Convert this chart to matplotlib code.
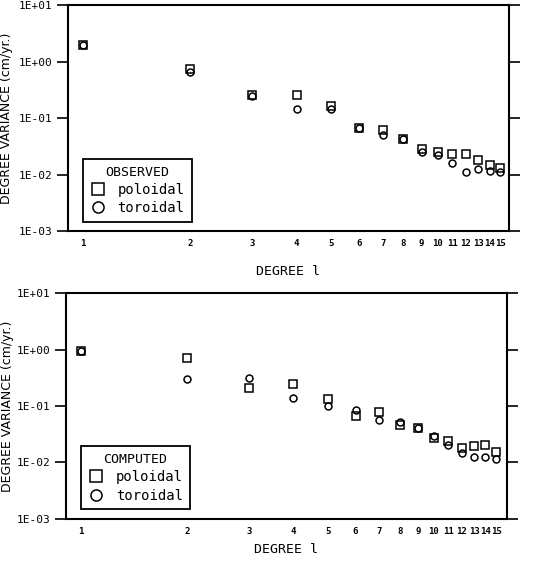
import numpy as np
import matplotlib
matplotlib.use('Agg')
import matplotlib.pyplot as plt
from matplotlib.ticker import FixedLocator, NullLocator

plt.rcParams['font.family'] = ['DejaVu Sans Mono']

# grau l
graus = [1, 2, 3, 4, 5, 6, 7, 8, 9, 10, 11, 12, 13, 14, 15]

# observado
obs_poloidal = [2.0, 0.74, 0.26, 0.26, 0.163, 0.066, 0.061, 0.042, 0.028, 0.025,
                0.023, 0.023, 0.0178, 0.0147, 0.0129]
obs_toroidal = [2.0, 0.65, 0.25, 0.143, 0.143, 0.068, 0.050, 0.042, 0.025, 0.022,
                0.016, 0.0112, 0.0127, 0.0117, 0.011]

# calculado
calc_poloidal = [0.946, 0.72, 0.206, 0.243, 0.135, 0.066, 0.077, 0.046, 0.040, 0.0274,
                 0.0236, 0.0182, 0.0198, 0.0206, 0.0155]
calc_toroidal = [0.946, 0.305, 0.31, 0.141, 0.10, 0.085, 0.056, 0.052, 0.040, 0.0297,
                 0.020, 0.0144, 0.0124, 0.0124, 0.0113]

yticks = [1e-3, 1e-2, 1e-1, 1e0, 1e1]
ylabels = ['1E-03', '1E-02', '1E-01', '1E+00', '1E+01']

fig = plt.figure(figsize=(5.37, 5.65), dpi=100)
ax1 = fig.add_axes([0.1266, 0.591, 0.821, 0.400])
ax2 = fig.add_axes([0.123, 0.082, 0.821, 0.399])

def painel(ax, pol, tor, titulo, xlim, pad_x, lab_x):
    ax.set_xscale('log')
    ax.set_yscale('log')
    ax.plot(graus, pol, linestyle='none', marker='s', markersize=5.5,
            markerfacecolor='white', markeredgecolor='black', markeredgewidth=1.1,
            label='poloidal')
    ax.plot(graus, tor, linestyle='none', marker='o', markersize=5,
            markerfacecolor='none', markeredgecolor='black', markeredgewidth=1.1,
            label='toroidal')
    ax.set_xlim(*xlim)
    ax.set_ylim(1e-3, 1e1)
    ax.yaxis.set_major_locator(FixedLocator(yticks))
    ax.yaxis.set_minor_locator(NullLocator())
    ax.set_yticklabels(ylabels, fontsize=8)
    ax.xaxis.set_major_locator(FixedLocator(graus))
    ax.xaxis.set_minor_locator(NullLocator())
    ax.set_xticklabels([str(g) for g in graus], fontsize=6.5, fontweight='bold')
    ax.tick_params(axis='y', direction='out', length=8, width=1.2,
                   right=True, left=True)
    ax.tick_params(axis='x', direction='in', length=0, pad=6)
    for s in ax.spines.values():
        s.set_linewidth(1.5)
    ax.set_ylabel('DEGREE VARIANCE (cm/yr.)', fontsize=9, family='DejaVu Sans')
    ax.yaxis.set_label_coords(lab_x, 0.5)
    ax.set_xlabel('DEGREE l', fontsize=9.5, labelpad=pad_x)
    leg = ax.legend(title=titulo, loc='lower left', bbox_to_anchor=(0.018, 0.01),
                    fancybox=False, edgecolor='black', framealpha=1,
                    fontsize=10, title_fontsize=9.5, markerscale=1.6,
                    handletextpad=0.8, handlelength=1.2, borderpad=0.5,
                    labelspacing=0.3)
    leg.get_frame().set_linewidth(1.3)

painel(ax1, obs_poloidal, obs_toroidal, 'OBSERVED', (0.908, 15.86), 12, -0.124)
painel(ax2, calc_poloidal, calc_toroidal, 'COMPUTED', (0.909, 16.1), 5, -0.119)

fig.savefig('out.png', dpi=100)
